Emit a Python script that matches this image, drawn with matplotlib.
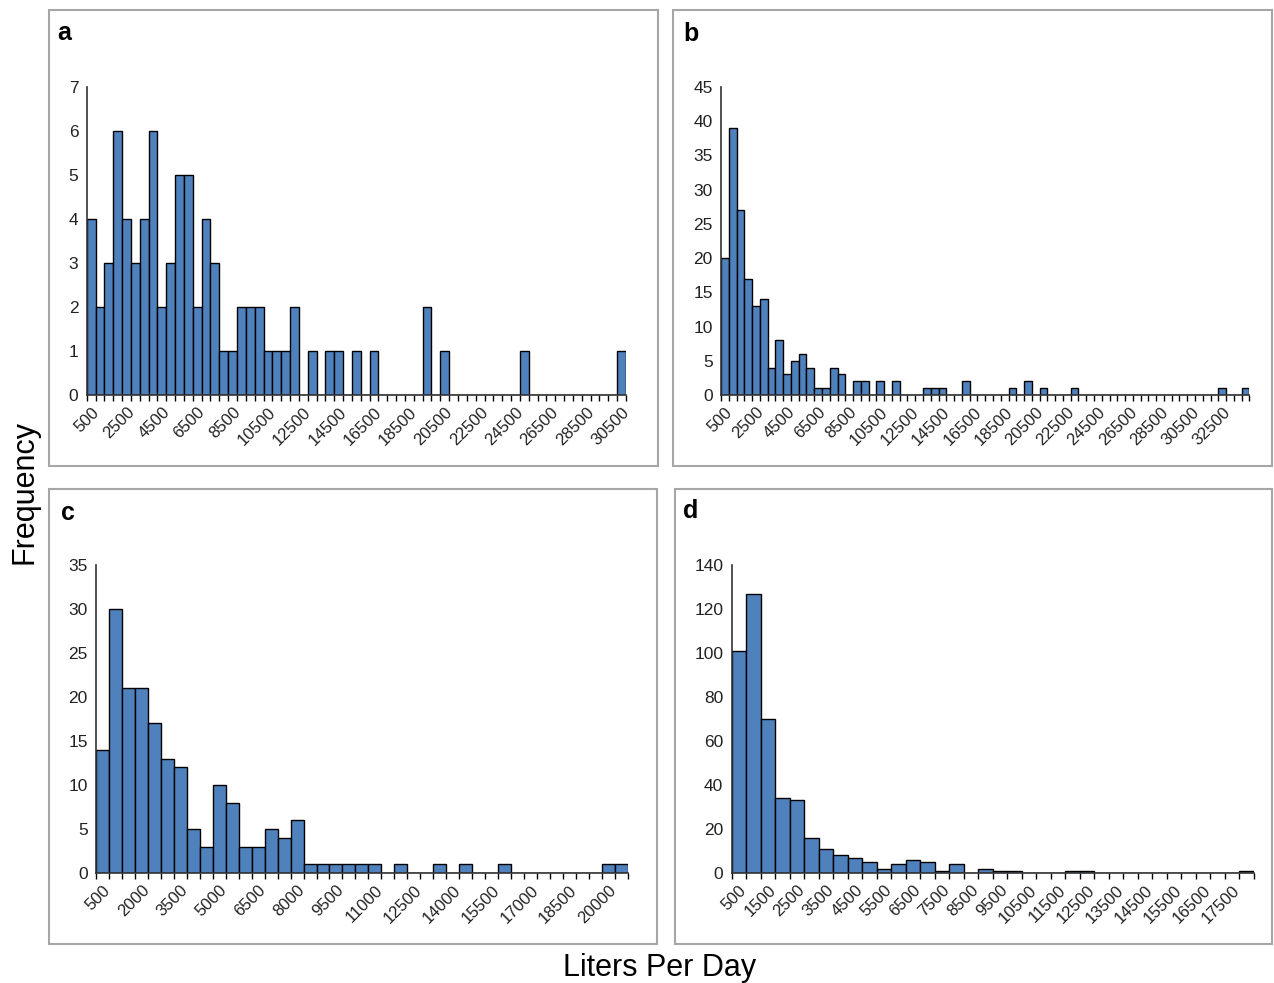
import numpy as np
import matplotlib
matplotlib.use("Agg")
import matplotlib.pyplot as plt
from matplotlib.patches import Rectangle

plt.rcParams['font.family'] = ['Liberation Sans', 'DejaVu Sans']

# ---- data (bin width 500 L/day, first bin labelled 500) ----
counts_a = [4, 2, 3, 6, 4, 3, 4, 6, 2, 3, 5, 5, 2, 4, 3, 1, 1, 2, 2, 2, 1, 1, 1, 2,
            0, 1, 0, 1, 1, 0, 1, 0, 1, 0, 0, 0, 0, 0, 2, 0, 1, 0, 0, 0, 0, 0, 0, 0,
            0, 1, 0, 0, 0, 0, 0, 0, 0, 0, 0, 0, 1]
counts_b = [20, 39, 27, 17, 13, 14, 4, 8, 3, 5, 6, 4, 1, 1, 4, 3, 0, 2, 2, 0, 2, 0,
            2, 0, 0, 0, 1, 1, 1, 0, 0, 2, 0, 0, 0, 0, 0, 1, 0, 2, 0, 1, 0, 0, 0, 1,
            0, 0, 0, 0, 0, 0, 0, 0, 0, 0, 0, 0, 0, 0, 0, 0, 0, 0, 1, 0, 0, 1]
counts_c = [14, 30, 21, 21, 17, 13, 12, 5, 3, 10, 8, 3, 3, 5, 4, 6, 1, 1, 1, 1, 1, 1,
            0, 1, 0, 0, 1, 0, 1, 0, 0, 1, 0, 0, 0, 0, 0, 0, 0, 1, 1]
counts_d = [101, 127, 70, 34, 33, 16, 11, 8, 7, 5, 2, 4, 6, 5, 1, 4, 0, 2, 1, 1,
            0, 0, 0, 1, 1, 0, 0, 0, 0, 0, 0, 0, 0, 0, 0, 1]
bin_width = 500
first_bin = 500
label_every = {'a': 4, 'b': 4, 'c': 3, 'd': 2}
yticks = {'a': np.arange(0, 8, 1), 'b': np.arange(0, 50, 5),
          'c': np.arange(0, 40, 5), 'd': np.arange(0, 160, 20)}

W, H = 1274, 983
fig = plt.figure(figsize=(W / 100, H / 100), dpi=100)
fig.patch.set_facecolor('white')

def fx(px):
    return px / W

def fy(py):
    return 1 - py / H

# panel frames (pixel boxes)
frames = {'a': (49, 10, 658, 466), 'b': (673, 10, 1272, 466),
          'c': (49, 489, 657, 944), 'd': (675, 489, 1272, 944)}
# axes boxes (left, top, right, bottom in px)
axboxes = {'a': (86.7, 87, 626, 395), 'b': (721, 87, 1249.4, 395),
           'c': (96, 565, 627.8, 873), 'd': (731.7, 565, 1253.7, 873)}
letter_pos = {'a': (57, 33), 'b': (683, 34), 'c': (61, 513), 'd': (683, 511)}

for k, (x0, y0, x1, y1) in frames.items():
    fig.patches.append(Rectangle((fx(x0), fy(y1)), fx(x1 - x0), (y1 - y0) / H,
                                 transform=fig.transFigure, fill=False,
                                 edgecolor='#a6a6a6', linewidth=1.5))

data = {'a': counts_a, 'b': counts_b, 'c': counts_c, 'd': counts_d}
for k, counts in data.items():
    l, t, r, b = axboxes[k]
    ax = fig.add_axes([fx(l), fy(b), fx(r - l), (b - t) / H])
    n = len(counts)
    bins = first_bin + bin_width * np.arange(n)
    ax.bar(bins, counts, width=bin_width, color='#4F81BD', edgecolor='black',
           linewidth=1.0, align='center', zorder=2)
    ax.set_xlim(bins[0] - bin_width / 2, bins[-1] + bin_width / 2)
    yt = yticks[k]
    ax.set_ylim(0, yt[-1])
    ax.set_yticks(yt)
    ax.set_yticklabels([str(v) for v in yt], fontsize=12.5, color='#222222')
    step = label_every[k]
    ax.set_xticks(bins[::step])
    ax.set_xticklabels([str(v) for v in bins[::step]], rotation=45, ha='right',
                       rotation_mode='anchor', fontsize=12, color='#222222')
    edges = np.append(bins - bin_width / 2, bins[-1] + bin_width / 2)
    ax.set_xticks(edges, minor=True)
    ax.tick_params(axis='x', which='major', length=0, pad=7)
    ax.tick_params(axis='x', which='minor', length=4, width=1.0, direction='out',
                   color='black')
    ax.tick_params(axis='y', length=0, pad=6)
    for s in ['top', 'right']:
        ax.spines[s].set_visible(False)
    ax.spines['left'].set_color('#333333')
    ax.spines['bottom'].set_color('#333333')
    ax.spines['left'].set_linewidth(1.2)
    ax.spines['bottom'].set_linewidth(1.2)
    ax.set_facecolor('none')
    px, py = letter_pos[k]
    fig.text(fx(px), fy(py), k, fontsize=18, fontweight='bold', ha='left', va='center')

fig.text(fx(25), fy(492), 'Frequency', rotation=90, fontsize=22, ha='center', va='center')
fig.text(fx(660), fy(968), 'Liters Per Day', fontsize=22, ha='center', va='center')

fig.savefig('out.png', dpi=100, facecolor='white')
